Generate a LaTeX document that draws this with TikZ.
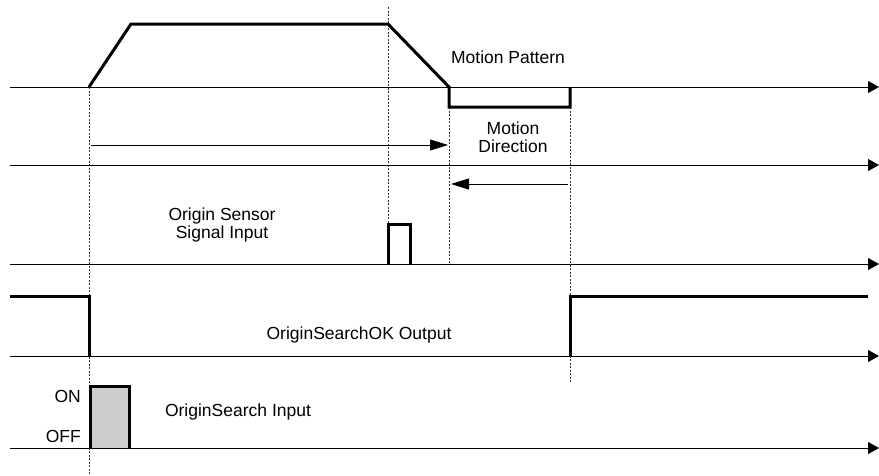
\documentclass[tikz,border=0pt]{standalone}
\usepackage{fontspec}
\setmainfont{Liberation Sans}
\usetikzlibrary{arrows.meta,positioning}

\begin{document}
\begin{tikzpicture}[
    x=1pt, y=-1pt,
    axis/.style={draw=black, line width=1pt, -{Triangle[length=11pt,width=12pt]}},
    signal/.style={draw=black, line width=3pt, line join=miter},
    guide/.style={draw=black!80, line width=0.7pt, dash pattern=on 2pt off 1.5pt},
    dirarrow/.style={draw=black, line width=1pt, -{Triangle[length=18pt,width=11pt]}},
    lbl/.style={font=\fontsize{17.5}{18}\selectfont, align=center, inner sep=0pt}
]
\useasboundingbox (0,0) rectangle (879,475);

% Time axes
\foreach \name/\y in {pat/87, dir/165, sen/264, ok/356, src/448} {
  \coordinate (\name-l) at (10,\y);
  \coordinate (\name-r) at (879,\y);
  \draw [axis] (\name-l) -- (\name-r);
}

% Guide lines
\draw [guide] (89,87) -- (89,475);
\draw [guide] (388,7) -- (388,224);
\draw [guide] (449,107) -- (449,264);
\draw [guide] (570,107) -- (570,382);

% Motion pattern
\draw [signal] (89,87) -- (131,24) -- (388,24) -- (449,87) -- (449,107) -- (570,107) -- (570,87);

% Motion direction
\coordinate (fwd-s) at (91,145);
\coordinate (fwd-e) at (448,145);
\coordinate (rev-s) at (568,184);
\coordinate (rev-e) at (451,184);
\draw [dirarrow] (fwd-s) -- (fwd-e);
\draw [dirarrow] (rev-s) -- (rev-e);

% Origin sensor pulse
\draw [signal] (388,264) -- (388,224) -- (410,224) -- (410,264);

% OriginSearchOK output
\draw [signal] (10,296) -- (89,296) -- (89,356);
\draw [signal] (570,356) -- (570,296) -- (868,296);

% OriginSearch input
\draw [signal, fill=black!20] (90,448) -- (90,386) -- (129,386) -- (129,448);

% Labels
\node [lbl] (patlbl) at (508,57) {Motion Pattern};
\node [lbl] (dirlbl) at (513,137) {Motion\\Direction};
\node [lbl] (senlbl) at (222,225) {Origin Sensor\\Signal Input};
\node [lbl] (oklbl) at (359,335) {OriginSearchOK Output};
\node [lbl] (srclbl) at (238,412) {OriginSearch Input};
\node [lbl, anchor=east] (onlbl) at (81,396) {ON};
\node [lbl, anchor=east] (offlbl) at (81,436) {OFF};

\end{tikzpicture}
\end{document}
